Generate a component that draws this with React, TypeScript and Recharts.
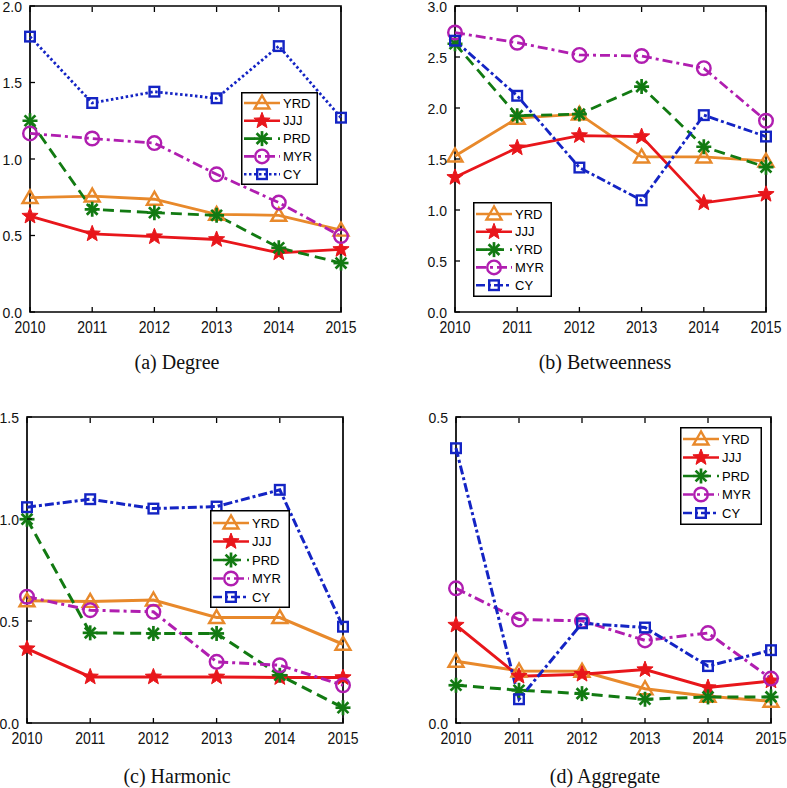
import { Legend, Line, LineChart, ReferenceArea, XAxis, YAxis } from 'recharts'

const years = [2010, 2011, 2012, 2013, 2014, 2015]
const seriesKeys = ['YRD', 'JJJ', 'PRD', 'MYR', 'CY']

const degree: Record<string, number[]> = {
  YRD: [0.748, 0.758, 0.737, 0.638, 0.632, 0.535],
  JJJ: [0.627, 0.511, 0.492, 0.474, 0.387, 0.409],
  PRD: [1.25, 0.671, 0.649, 0.632, 0.42, 0.32],
  MYR: [1.167, 1.134, 1.104, 0.9, 0.715, 0.496],
  CY: [1.8, 1.366, 1.44, 1.397, 1.738, 1.27],
}
const betweenness: Record<string, number[]> = {
  YRD: [1.53, 1.9, 1.94, 1.52, 1.52, 1.48],
  JJJ: [1.32, 1.61, 1.73, 1.72, 1.07, 1.154],
  PRD: [2.63, 1.925, 1.94, 2.21, 1.62, 1.42],
  MYR: [2.74, 2.64, 2.52, 2.51, 2.39, 1.875],
  CY: [2.66, 2.12, 1.416, 1.095, 1.93, 1.72],
}
const harmonic: Record<string, number[]> = {
  YRD: [0.599, 0.596, 0.603, 0.517, 0.517, 0.386],
  JJJ: [0.364, 0.226, 0.226, 0.226, 0.223, 0.223],
  PRD: [0.999, 0.442, 0.439, 0.439, 0.234, 0.075],
  MYR: [0.619, 0.553, 0.545, 0.3, 0.283, 0.185],
  CY: [1.058, 1.097, 1.051, 1.061, 1.143, 0.472],
}
const aggregate: Record<string, number[]> = {
  YRD: [0.101, 0.085, 0.0846, 0.056, 0.0437, 0.0355],
  JJJ: [0.16, 0.0764, 0.0797, 0.0873, 0.0579, 0.0688],
  PRD: [0.0617, 0.0535, 0.048, 0.0388, 0.0426, 0.0426],
  MYR: [0.22, 0.169, 0.167, 0.135, 0.147, 0.0726],
  CY: [0.449, 0.0388, 0.163, 0.156, 0.093, 0.119],
}

const legendNames = ['YRD', 'JJJ', 'PRD', 'MYR', 'CY']
const legendNamesB = ['YRD', 'JJJ', 'YRD', 'MYR', 'CY']

const styles: Record<string, { color: string; dash?: string; marker: string }> = {
  YRD: { color: '#E8892B', marker: 'triangle' },
  JJJ: { color: '#E8161B', marker: 'star' },
  PRD: { color: '#127A12', dash: '11 6', marker: 'asterisk' },
  MYR: { color: '#B01EB0', dash: '10 4 3 4', marker: 'circle' },
  CY: { color: '#1424C4', dash: '9 3 3 3', marker: 'square' },
}

const sans = '"Liberation Sans", Arial, sans-serif'
const serif = '"Liberation Serif", "Times New Roman", serif'

function Marker({ kind, cx, cy, color }: { kind: string; cx: number; cy: number; color: string }) {
  const sw = 2.4
  if (kind === 'triangle') {
    const pts = `${cx},${cy - 7.5} ${cx - 7.5},${cy + 5.5} ${cx + 7.5},${cy + 5.5}`
    return <polygon points={pts} fill="none" stroke={color} strokeWidth={sw} />
  }
  if (kind === 'star') {
    const pts: string[] = []
    for (let k = 0; k < 10; k++) {
      const r = k % 2 === 0 ? 8.5 : 3.6
      const a = -Math.PI / 2 + (k * Math.PI) / 5
      pts.push(`${cx + r * Math.cos(a)},${cy + r * Math.sin(a)}`)
    }
    return <polygon points={pts.join(' ')} fill={color} stroke={color} strokeWidth={1} />
  }
  if (kind === 'asterisk') {
    const r = 7.5
    const d = r * 0.72
    return (
      <g stroke={color} strokeWidth={2.7}>
        <line x1={cx - r} y1={cy} x2={cx + r} y2={cy} />
        <line x1={cx} y1={cy - r} x2={cx} y2={cy + r} />
        <line x1={cx - d} y1={cy - d} x2={cx + d} y2={cy + d} />
        <line x1={cx - d} y1={cy + d} x2={cx + d} y2={cy - d} />
      </g>
    )
  }
  if (kind === 'circle') {
    return <circle cx={cx} cy={cy} r={6.8} fill="none" stroke={color} strokeWidth={sw} />
  }
  return <rect x={cx - 4.8} y={cy - 4.8} width={9.6} height={9.6} fill="none" stroke={color} strokeWidth={sw} />
}

interface LegendBoxProps {
  names: string[]
  cyDash: string
  width: number
  height: number
  first: number
  step: number
}

function LegendBox({ names, cyDash, width, height, first, step }: LegendBoxProps) {
  return (
    <svg width={width} height={height} style={{ display: 'block' }}>
      <rect x={0.75} y={0.75} width={width - 1.5} height={height - 1.5} fill="#fff" stroke="#000" strokeWidth={1.5} />
      {seriesKeys.map((key, i) => {
        const s = styles[key]
        const y = first + i * step
        return (
          <g key={key}>
            <line
              x1={3}
              x2={39}
              y1={y}
              y2={y}
              stroke={s.color}
              strokeWidth={2.6}
              strokeDasharray={key === 'CY' ? cyDash : s.dash}
            />
            <Marker kind={s.marker} cx={21} cy={y} color={s.color} />
            <text x={42} y={y} dy="0.36em" fontSize={13} fontFamily={sans} fill="#000">
              {names[i]}
            </text>
          </g>
        )
      })}
    </svg>
  )
}

interface PanelProps {
  values: Record<string, number[]>
  left: number
  top: number
  width: number
  height: number
  plotLeft: number
  marginRight: number
  marginTop: number
  xAxisHeight: number
  yMax: number
  yTicks: number[]
  cyDash: string
  lineWidth: number
  legend: { names: string[]; left: number; top: number; width: number; height: number; first: number; step: number }
  caption: string
  captionX: number
  captionY: number
}

function Panel(p: PanelProps) {
  const rows = years.map((year, i) => {
    const row: Record<string, number> = { year }
    seriesKeys.forEach((k) => {
      row[k] = p.values[k][i]
    })
    return row
  })

  const leftTick = (props: any) => {
    const x = Number(props.x)
    const y = Number(props.y)
    return (
      <g>
        <line x1={x + 8} x2={x + 13} y1={y} y2={y} stroke="#000" strokeWidth={1.3} />
        <text x={x} y={y} dy="0.42em" textAnchor="end" fontSize={14} fontFamily={sans} fill="#111">
          {Number(props.payload.value).toFixed(1)}
        </text>
      </g>
    )
  }
  const rightTick = (props: any) => {
    const x = Number(props.x)
    const y = Number(props.y)
    return <line x1={x} x2={x - 5} y1={y} y2={y} stroke="#000" strokeWidth={1.3} />
  }
  const bottomTick = (props: any) => {
    const x = Number(props.x)
    const y = Number(props.y)
    return (
      <g>
        <line x1={x} x2={x} y1={y - 9} y2={y - 14} stroke="#000" strokeWidth={1.3} />
        <text
          transform={`translate(${x},${y}) scale(1,1.22)`}
          dy="0.72em"
          textAnchor="middle"
          fontSize={14}
          fontFamily={sans}
          fill="#111"
        >
          {props.payload.value}
        </text>
      </g>
    )
  }
  const topTick = (props: any) => {
    const x = Number(props.x)
    const y = Number(props.y)
    return <line x1={x} x2={x} y1={y + 1} y2={y + 6} stroke="#000" strokeWidth={1.3} />
  }

  return (
    <>
      <div style={{ position: 'absolute', left: p.left, top: p.top }}>
        <LineChart
          width={p.width}
          height={p.height}
          data={rows}
          margin={{ top: p.marginTop - 1, right: p.marginRight - 1, left: 0, bottom: 0 }}
        >
          <XAxis
            dataKey="year"
            type="number"
            domain={[2010, 2015]}
            ticks={years}
            height={p.xAxisHeight}
            tickSize={0}
            tickMargin={9}
            tick={bottomTick}
            axisLine={false}
            interval={0}
          />
          <XAxis
            xAxisId="top"
            orientation="top"
            dataKey="year"
            type="number"
            domain={[2010, 2015]}
            ticks={years}
            height={1}
            tickSize={0}
            tickMargin={0}
            tick={topTick}
            axisLine={false}
            interval={0}
          />
          <YAxis
            type="number"
            domain={[0, p.yMax]}
            ticks={p.yTicks}
            width={p.plotLeft}
            tickSize={0}
            tickMargin={8}
            tick={leftTick}
            axisLine={false}
            interval={0}
            allowDataOverflow
          />
          <YAxis
            yAxisId="right"
            orientation="right"
            type="number"
            domain={[0, p.yMax]}
            ticks={p.yTicks}
            width={1}
            tickSize={0}
            tickMargin={0}
            tick={rightTick}
            axisLine={false}
            interval={0}
          />
          <ReferenceArea
            x1={2010}
            x2={2015}
            y1={0}
            y2={p.yMax}
            fill="none"
            fillOpacity={0}
            stroke="#000"
            strokeWidth={1.7}
            ifOverflow="visible"
          />
          {seriesKeys.map((key) => {
            const s = styles[key]
            return (
              <Line
                key={key}
                type="linear"
                dataKey={key}
                stroke={s.color}
                strokeWidth={p.lineWidth}
                strokeDasharray={key === 'CY' ? p.cyDash : s.dash}
                dot={(d: any) => (
                  <g key={`${key}-${d.index}`}>
                    <Marker kind={s.marker} cx={d.cx} cy={d.cy} color={s.color} />
                  </g>
                )}
                activeDot={false}
                isAnimationActive={false}
              />
            )
          })}
          <Legend
            layout="vertical"
            align="center"
            verticalAlign="middle"
            wrapperStyle={{ left: p.legend.left - p.left, top: p.legend.top - p.top }}
            content={() => (
              <LegendBox
                names={p.legend.names}
                cyDash={p.cyDash}
                width={p.legend.width}
                height={p.legend.height}
                first={p.legend.first}
                step={p.legend.step}
              />
            )}
          />
        </LineChart>
      </div>
      <div
        style={{
          position: 'absolute',
          left: p.captionX - 150,
          width: 300,
          top: p.captionY - 12,
          textAlign: 'center',
          fontFamily: serif,
          fontSize: 20,
          lineHeight: '24px',
          color: '#111',
        }}
      >
        {p.caption}
      </div>
    </>
  )
}

export default function App() {
  return (
    <div style={{ position: 'absolute', left: 0, top: 0, width: 787, height: 788, background: '#fff' }}>
      <Panel
        values={degree}
        left={0}
        top={0}
        width={394}
        height={345}
        plotLeft={30}
        marginRight={53}
        marginTop={6}
        xAxisHeight={33}
        yMax={2}
        yTicks={[0, 0.5, 1, 1.5, 2]}
        cyDash="2.5 2.5"
        lineWidth={2.8}
        legend={{ names: legendNames, left: 241, top: 92, width: 77, height: 93, first: 11, step: 17.8 }}
        caption="(a) Degree"
        captionX={177}
        captionY={362}
      />
      <Panel
        values={betweenness}
        left={394}
        top={0}
        width={393}
        height={345}
        plotLeft={61}
        marginRight={21}
        marginTop={6}
        xAxisHeight={33}
        yMax={3}
        yTicks={[0, 0.5, 1, 1.5, 2, 2.5, 3]}
        cyDash="9 3 3 3"
        lineWidth={2.8}
        legend={{ names: legendNamesB, left: 473, top: 202, width: 79, height: 95, first: 12, step: 17.8 }}
        caption="(b) Betweenness"
        captionX={605}
        captionY={362}
      />
      <Panel
        values={harmonic}
        left={0}
        top={380}
        width={394}
        height={376}
        plotLeft={27}
        marginRight={51}
        marginTop={37}
        xAxisHeight={33}
        yMax={1.5}
        yTicks={[0, 0.5, 1, 1.5]}
        cyDash="9 3 3 3"
        lineWidth={3}
        legend={{ names: legendNames, left: 210, top: 510, width: 80, height: 98, first: 13, step: 18.5 }}
        caption="(c) Harmonic"
        captionX={177}
        captionY={776}
      />
      <Panel
        values={aggregate}
        left={394}
        top={380}
        width={393}
        height={376}
        plotLeft={62}
        marginRight={16}
        marginTop={37}
        xAxisHeight={33}
        yMax={0.5}
        yTicks={[0, 0.5]}
        cyDash="9 3 3 3"
        lineWidth={3}
        legend={{ names: legendNames, left: 680, top: 427, width: 82, height: 98, first: 12, step: 18.5 }}
        caption="(d) Aggregate"
        captionX={605}
        captionY={776}
      />
    </div>
  )
}
